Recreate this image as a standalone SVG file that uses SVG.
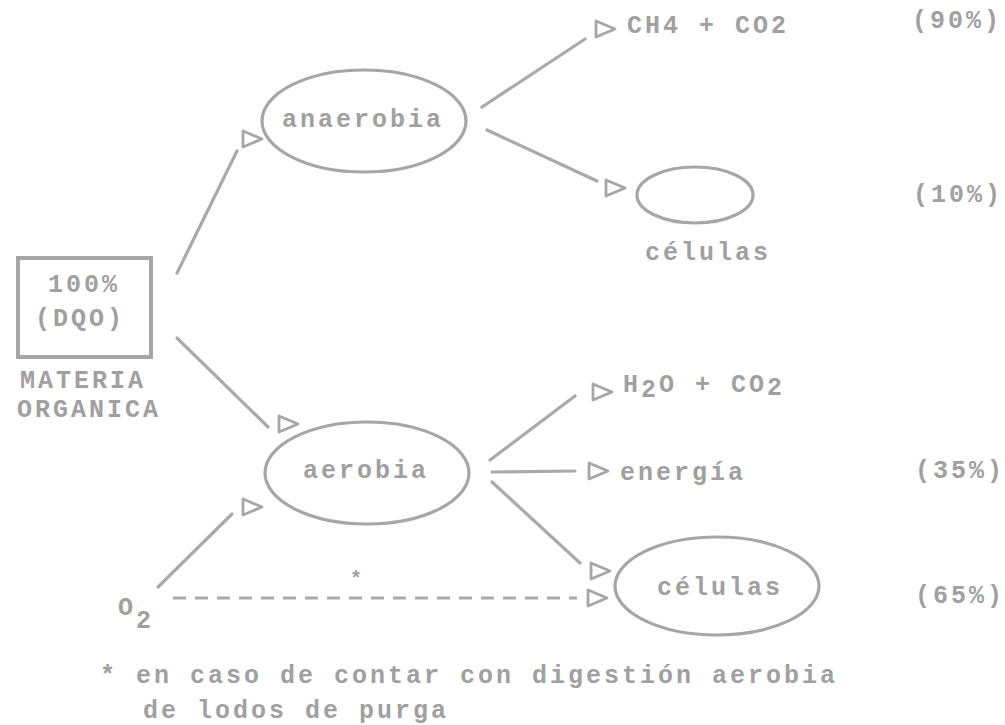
<svg xmlns="http://www.w3.org/2000/svg" width="1005" height="725" viewBox="0 0 1005 725">
<defs>
<style>
text{font-family:"Liberation Mono","DejaVu Sans Mono",monospace;font-weight:bold;font-size:25px;letter-spacing:3px;fill:#a0a0a0}
.ln{stroke:#aaaaaa;stroke-width:3.2;fill:none;stroke-linecap:round}
.dash{stroke:#aaaaaa;stroke-width:3;fill:none;stroke-dasharray:13 9}
.el{stroke:#a6a6a6;stroke-width:3.2;fill:none}
.ah{stroke:#a6a6a6;stroke-width:2.8;fill:none;stroke-linejoin:round}
.sm{font-size:20px}
</style>
<polygon id="tri" points="-9,-8 -9,8 10,0"/>
</defs>
<rect width="1005" height="725" fill="#ffffff"/>

<g id="connectors">
<line class="ln" x1="177" y1="273" x2="237" y2="151"/>
<use href="#tri" class="ah" x="252" y="139"/>
<line class="ln" x1="482" y1="107" x2="585" y2="39"/>
<use href="#tri" class="ah" x="605" y="29"/>
<line class="ln" x1="487" y1="130" x2="597" y2="181"/>
<use href="#tri" class="ah" x="615" y="188"/>
<line class="ln" x1="177" y1="338" x2="268" y2="427"/>
<use href="#tri" class="ah" x="288" y="424"/>
<line class="ln" x1="158" y1="587" x2="232" y2="514"/>
<use href="#tri" class="ah" x="252" y="507"/>
<line class="ln" x1="490" y1="460" x2="575" y2="396"/>
<use href="#tri" class="ah" x="602" y="392"/>
<line class="ln" x1="492" y1="472" x2="575" y2="471"/>
<use href="#tri" class="ah" x="598" y="471"/>
<line class="ln" x1="492" y1="482" x2="580" y2="563"/>
<use href="#tri" class="ah" x="600" y="571"/>
<line class="dash" x1="173" y1="598" x2="577" y2="598"/>
<use href="#tri" class="ah" x="597" y="598"/>
<text x="350" y="585" class="sm">*</text>
</g>

<g id="materia">
<rect x="18" y="258" width="133" height="99" fill="none" stroke="#a6a6a6" stroke-width="4"/>
<text x="48" y="292">100%</text>
<text x="35" y="326">(DQO)</text>
<text x="20" y="388">MATERIA</text>
<text x="17" y="417">ORGANICA</text>
</g>

<g id="anaerobia">
<ellipse class="el" cx="364" cy="121" rx="102" ry="51"/>
<text x="282" y="127">anaerobia</text>
</g>

<g id="ch4">
<text x="627" y="33">CH4 + CO2</text>
</g>
<g id="pct90"><text x="912" y="28">(90%)</text></g>

<g id="celulas-anaerobia">
<ellipse class="el" cx="695" cy="195" rx="58" ry="28"/>
<text x="645" y="260">células</text>
</g>
<g id="pct10"><text x="913" y="202">(10%)</text></g>

<g id="aerobia">
<ellipse class="el" cx="367" cy="473" rx="102" ry="51"/>
<text x="303" y="478">aerobia</text>
</g>

<g id="h2o">
<text x="623" y="392">H<tspan dy="5">2</tspan><tspan dy="-5">O + CO</tspan><tspan dy="3">2</tspan></text>
</g>

<g id="energia">
<text x="620" y="480">energía</text>
</g>
<g id="pct35"><text x="915" y="478">(35%)</text></g>

<g id="celulas-aerobia">
<ellipse class="el" cx="717" cy="586" rx="102" ry="49"/>
<text x="657" y="595">células</text>
</g>
<g id="pct65"><text x="915" y="603">(65%)</text></g>

<g id="o2">
<text x="118" y="615">O<tspan dy="13">2</tspan></text>
</g>

<g id="footnote">
<text x="100" y="683">* en caso de contar con digestión aerobia</text>
<text x="143" y="718">de lodos de purga</text>
</g>
</svg>
